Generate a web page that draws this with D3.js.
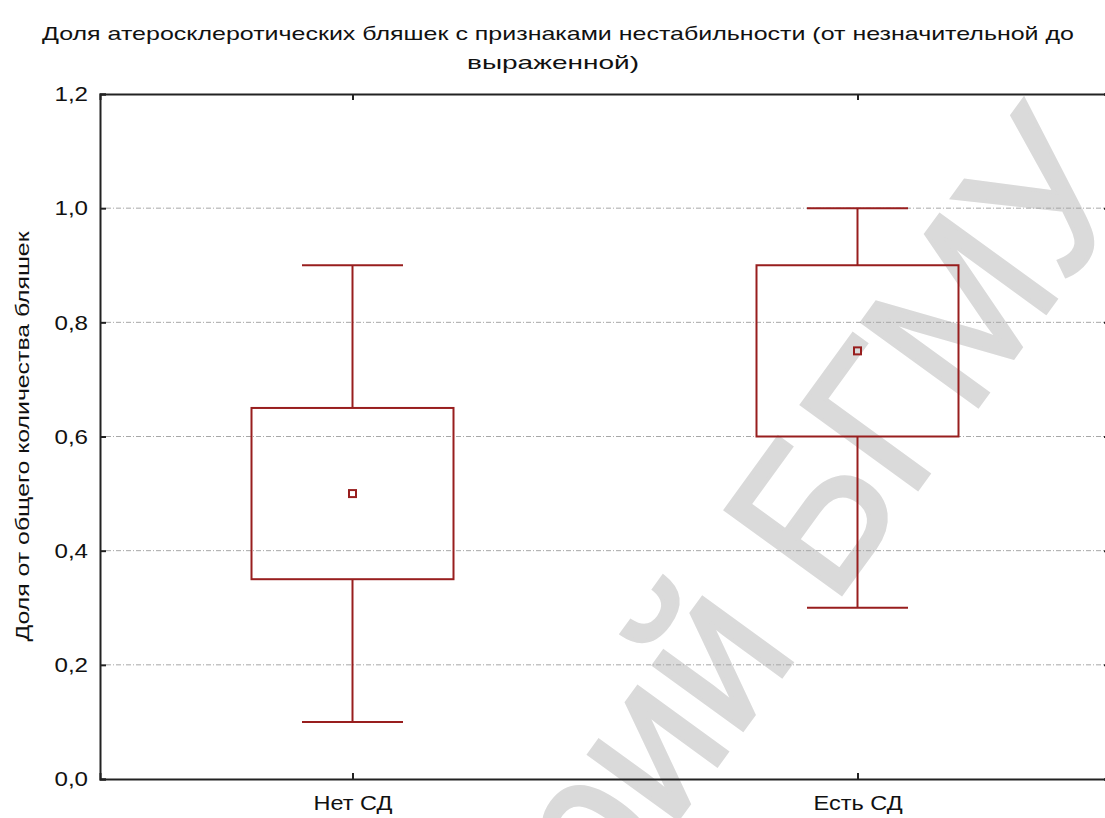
<!DOCTYPE html>
<html><head><meta charset="utf-8">
<script src="https://cdn.jsdelivr.net/npm/d3@7"></script>
<style>body{margin:0;background:#fff}svg{display:block}text{font-family:Arial,"Liberation Sans",sans-serif}</style>
</head><body>
<svg id="c" width="1105" height="818"></svg>
<script>
const categories = ["Нет СД", "Есть СД"];
const means = [0.5, 0.75];
const q1 = [0.35, 0.6];
const q3 = [0.65, 0.9];
const whiskerLow = [0.1, 0.3];
const whiskerHigh = [0.9, 1.0];
const yTicks = [0, 0.2, 0.4, 0.6, 0.8, 1.0, 1.2];
const titleLines = ["Доля атеросклеротических бляшек с признаками нестабильности (от незначительной до", "выраженной)"];
const yLabel = "Доля от общего количества бляшек";
const watermark = "Репозиторий БГМУ";

const svg = d3.select("#c");
svg.append("rect").attr("width",1105).attr("height",818).attr("fill","#fff");
const L=100, R=1110, T=94, B=779;
const x = d3.scalePoint().domain(categories).range([L,R]).padding(0.5);
const y = d3.scaleLinear().domain([0,1.2]).range([B,T]);
const step = x.step();
const col = "#981e1e";

// watermark (anchored so that "Б" starts at the given point)
const wm = svg.append("g").attr("transform","translate(832,607) rotate(-54) scale(0.95,1)");
const meas = s => { const t = wm.append("text").attr("font-size",208).text(s); const w = t.node().getComputedTextLength(); t.remove(); return w; };
const off = meas("Репозиторий Б") - meas("Б");
wm.append("text").attr("x",-off).attr("y",0).attr("font-size",208)
  .attr("fill","#dadada").attr("stroke","#dadada").attr("stroke-width",4).attr("stroke-linejoin","miter").text(watermark);

// gridlines
svg.append("g").selectAll("line").data(yTicks.filter(d=>d>0 && d<1.2)).join("line")
  .attr("x1",L+6).attr("x2",R-6).attr("y1",d=>y(d)).attr("y2",d=>y(d))
  .attr("stroke","#a8a8a8").attr("stroke-width",1).attr("stroke-dasharray","5,2,1,2");

// axes
const fmt = d=>d3.format(".1f")(d).replace(".",",");
const ay = svg.append("g").attr("transform",`translate(${L},0)`).call(d3.axisLeft(y).tickValues(yTicks).tickSize(-6).tickFormat(fmt));
const ay2 = svg.append("g").attr("transform",`translate(${R},0)`).call(d3.axisRight(y).tickValues(yTicks).tickSize(-6).tickFormat(""));
const ax = svg.append("g").attr("transform",`translate(0,${B})`).call(d3.axisBottom(x).tickSize(-6).tickPadding(16));
const ax2 = svg.append("g").attr("transform",`translate(0,${T})`).call(d3.axisTop(x).tickSize(-6).tickFormat(""));
[ay,ay2,ax,ax2].forEach(g=>{
  g.select(".domain").attr("stroke","#222").attr("stroke-width",2);
  g.selectAll(".tick line").attr("stroke","#222").attr("stroke-width",2);
});
ay.selectAll(".tick text").attr("font-size",21).attr("fill","#111")
  .attr("transform","scale(1.15,1)").attr("x",-12/1.15);
ax.selectAll(".tick text").attr("font-size",21).attr("fill","#111").attr("dy","0.72em")
  .attr("transform","scale(1.12,1)").attr("x",0);

// boxes
const idx = d3.range(categories.length);
const g = svg.append("g").attr("fill","none").attr("stroke",col).attr("stroke-width",2);
g.selectAll(".wh").data(idx).join("line").attr("class","wh")
  .attr("x1",i=>x(categories[i])).attr("x2",i=>x(categories[i]))
  .attr("y1",i=>y(whiskerLow[i])).attr("y2",i=>y(q1[i]));
g.selectAll(".wh2").data(idx).join("line").attr("class","wh2")
  .attr("x1",i=>x(categories[i])).attr("x2",i=>x(categories[i]))
  .attr("y1",i=>y(q3[i])).attr("y2",i=>y(whiskerHigh[i]));
g.selectAll(".capl").data(idx).join("line").attr("class","capl")
  .attr("x1",i=>x(categories[i])-step*0.1).attr("x2",i=>x(categories[i])+step*0.1)
  .attr("y1",i=>y(whiskerLow[i])).attr("y2",i=>y(whiskerLow[i]));
g.selectAll(".caph").data(idx).join("line").attr("class","caph")
  .attr("x1",i=>x(categories[i])-step*0.1).attr("x2",i=>x(categories[i])+step*0.1)
  .attr("y1",i=>y(whiskerHigh[i])).attr("y2",i=>y(whiskerHigh[i]));
g.selectAll(".box").data(idx).join("rect").attr("class","box")
  .attr("x",i=>x(categories[i])-step*0.2).attr("width",step*0.4)
  .attr("y",i=>y(q3[i])).attr("height",i=>y(q1[i])-y(q3[i]));
g.selectAll(".mean").data(idx).join("rect").attr("class","mean")
  .attr("x",i=>x(categories[i])-3.5).attr("y",i=>y(means[i])-3.5).attr("width",7).attr("height",7);

// title
svg.append("text").attr("x",558).attr("y",40).attr("text-anchor","middle").attr("font-size",19).attr("fill","#111")
  .attr("textLength",1032).attr("lengthAdjust","spacingAndGlyphs").text(titleLines[0]);
svg.append("text").attr("x",553).attr("y",69).attr("text-anchor","middle").attr("font-size",19).attr("fill","#111")
  .attr("textLength",172).attr("lengthAdjust","spacingAndGlyphs").text(titleLines[1]);

// y label
svg.append("text").attr("transform",`translate(29,${(T+B)/2}) rotate(-90)`).attr("text-anchor","middle")
  .attr("font-size",18).attr("fill","#111").attr("textLength",410).attr("lengthAdjust","spacingAndGlyphs").text(yLabel);
</script>
</body></html>
